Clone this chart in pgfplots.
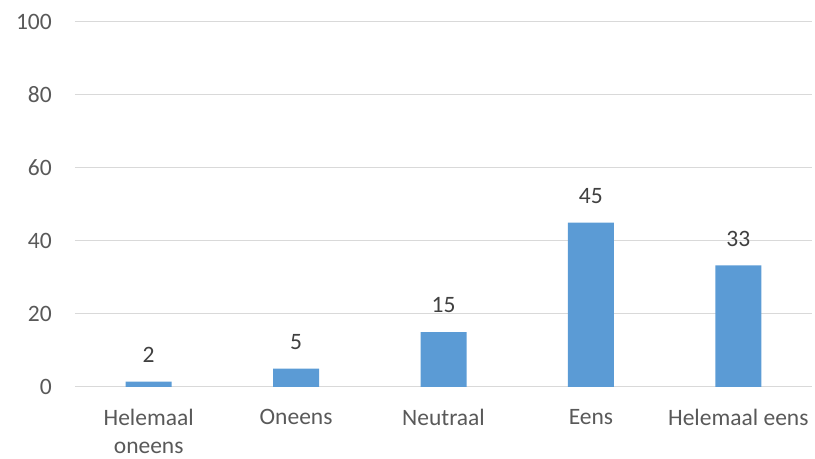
\documentclass[border=0pt]{standalone}
\usepackage{pgfplots}
\pgfplotsset{compat=1.18}
\usepackage{fontspec}
\setmainfont{Carlito}
\definecolor{barblue}{RGB}{91,155,213}
\definecolor{ticktext}{RGB}{89,89,89}
\definecolor{labeltext}{RGB}{64,64,64}
\definecolor{gridgray}{RGB}{217,217,217}
\begin{document}
\begin{tikzpicture}[font=\fontsize{23.5}{28}\selectfont]
\begin{axis}[
  name=ax,
  scale only axis,
  width=737pt, height=365pt,
  xmin=-0.5, xmax=4.5, ymin=0, ymax=100,
  ytick={0,20,...,100},
  xtick=data,
  xticklabels={{Helemaal\\oneens},Oneens,Neutraal,Eens,Helemaal eens},
  /pgf/number format/assume math mode=true,
  axis line style={draw=none},
  major tick style={draw=none},
  ymajorgrids,
  grid style={gridgray, line width=1pt},
  tick label style={font=\fontsize{23.5}{28}\selectfont, text=ticktext},
  y tick label style={inner sep=0pt, xshift=-23pt},
  x tick label style={align=center, inner sep=0pt, yshift=-22pt},
  clip=false,
]
\addplot[ybar, bar width=46pt, fill=barblue, draw=none,
  point meta=explicit symbolic,
  nodes near coords,
  every node near coord/.append style={font=\fontsize{23.5}{28}\selectfont, text=labeltext, inner sep=0pt, yshift=19pt}]
  table[meta=lbl] {
x y lbl
0 1.5 2
1 5 5
2 15 15
3 45 45
4 33.3 33
};
\end{axis}
\path ([shift={(-75pt,-72pt)}]ax.south west) rectangle ([shift={(3pt,22pt)}]ax.north east);
\end{tikzpicture}
\end{document}
